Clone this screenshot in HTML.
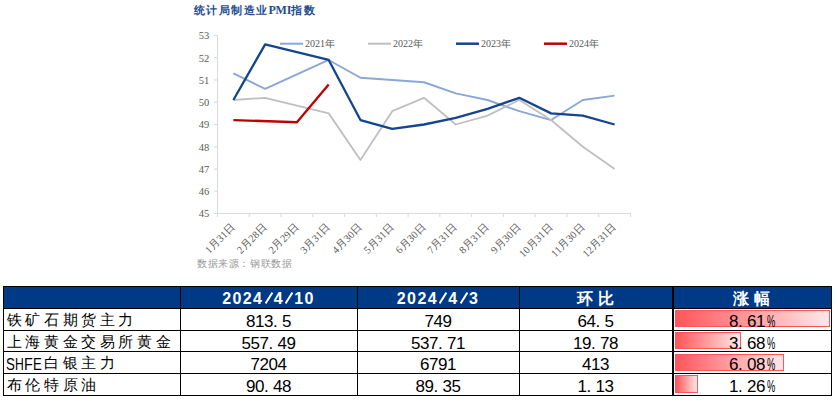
<!DOCTYPE html>
<html><head><meta charset="utf-8"><style>
html,body{margin:0;padding:0;background:#fff;}
body{width:839px;height:406px;position:relative;overflow:hidden;font-family:"Liberation Sans",sans-serif;}
.title{position:absolute;left:194px;top:3px;font-size:11px;font-weight:bold;color:#1F4E8F;letter-spacing:1.4px;white-space:nowrap}
.pmi{font-family:'Liberation Serif',serif;font-size:12px;letter-spacing:-0.2px}
.src{position:absolute;left:197px;top:257px;font-size:10px;color:#999;letter-spacing:0.6px;white-space:nowrap}
div,span{white-space:nowrap}
</style></head><body>
<div class="title">统计局制造业<span class="pmi">PMI</span>指数</div>
<svg width="839" height="280" viewBox="0 0 839 280" style="position:absolute;left:0;top:0">
<path d="M217.5,35.5 L217.5,213.5 L630.5,213.5" stroke="#D9D9D9" stroke-width="1" fill="none"/>
<path d="M214.0,35.5 L217.5,35.5 M214.0,57.75 L217.5,57.75 M214.0,80.0 L217.5,80.0 M214.0,102.25 L217.5,102.25 M214.0,124.5 L217.5,124.5 M214.0,146.75 L217.5,146.75 M214.0,169.0 L217.5,169.0 M214.0,191.25 L217.5,191.25 M214.0,213.5 L217.5,213.5 M217.50,213.5 L217.50,217.0 M249.27,213.5 L249.27,217.0 M281.04,213.5 L281.04,217.0 M312.81,213.5 L312.81,217.0 M344.58,213.5 L344.58,217.0 M376.35,213.5 L376.35,217.0 M408.12,213.5 L408.12,217.0 M439.88,213.5 L439.88,217.0 M471.65,213.5 L471.65,217.0 M503.42,213.5 L503.42,217.0 M535.19,213.5 L535.19,217.0 M566.96,213.5 L566.96,217.0 M598.73,213.5 L598.73,217.0 M630.50,213.5 L630.50,217.0" stroke="#D9D9D9" stroke-width="1" fill="none"/>
<text x="209.3" y="39.40" text-anchor="end" font-family="Liberation Serif" font-size="10.5" fill="#595959">53</text>
<text x="209.3" y="61.65" text-anchor="end" font-family="Liberation Serif" font-size="10.5" fill="#595959">52</text>
<text x="209.3" y="83.90" text-anchor="end" font-family="Liberation Serif" font-size="10.5" fill="#595959">51</text>
<text x="209.3" y="106.15" text-anchor="end" font-family="Liberation Serif" font-size="10.5" fill="#595959">50</text>
<text x="209.3" y="128.40" text-anchor="end" font-family="Liberation Serif" font-size="10.5" fill="#595959">49</text>
<text x="209.3" y="150.65" text-anchor="end" font-family="Liberation Serif" font-size="10.5" fill="#595959">48</text>
<text x="209.3" y="172.90" text-anchor="end" font-family="Liberation Serif" font-size="10.5" fill="#595959">47</text>
<text x="209.3" y="195.15" text-anchor="end" font-family="Liberation Serif" font-size="10.5" fill="#595959">46</text>
<text x="209.3" y="217.40" text-anchor="end" font-family="Liberation Serif" font-size="10.5" fill="#595959">45</text>
<text x="235.88" y="227.50" text-anchor="end" transform="rotate(-45 235.88 227.50)" font-family="Liberation Serif" font-size="10.5" fill="#595959">1月31日</text>
<text x="267.65" y="227.50" text-anchor="end" transform="rotate(-45 267.65 227.50)" font-family="Liberation Serif" font-size="10.5" fill="#595959">2月28日</text>
<text x="299.42" y="227.50" text-anchor="end" transform="rotate(-45 299.42 227.50)" font-family="Liberation Serif" font-size="10.5" fill="#595959">2月29日</text>
<text x="331.19" y="227.50" text-anchor="end" transform="rotate(-45 331.19 227.50)" font-family="Liberation Serif" font-size="10.5" fill="#595959">3月31日</text>
<text x="362.96" y="227.50" text-anchor="end" transform="rotate(-45 362.96 227.50)" font-family="Liberation Serif" font-size="10.5" fill="#595959">4月30日</text>
<text x="394.73" y="227.50" text-anchor="end" transform="rotate(-45 394.73 227.50)" font-family="Liberation Serif" font-size="10.5" fill="#595959">5月31日</text>
<text x="426.50" y="227.50" text-anchor="end" transform="rotate(-45 426.50 227.50)" font-family="Liberation Serif" font-size="10.5" fill="#595959">6月30日</text>
<text x="458.27" y="227.50" text-anchor="end" transform="rotate(-45 458.27 227.50)" font-family="Liberation Serif" font-size="10.5" fill="#595959">7月31日</text>
<text x="490.04" y="227.50" text-anchor="end" transform="rotate(-45 490.04 227.50)" font-family="Liberation Serif" font-size="10.5" fill="#595959">8月31日</text>
<text x="521.81" y="227.50" text-anchor="end" transform="rotate(-45 521.81 227.50)" font-family="Liberation Serif" font-size="10.5" fill="#595959">9月30日</text>
<text x="553.58" y="227.50" text-anchor="end" transform="rotate(-45 553.58 227.50)" font-family="Liberation Serif" font-size="10.5" fill="#595959">10月31日</text>
<text x="585.35" y="227.50" text-anchor="end" transform="rotate(-45 585.35 227.50)" font-family="Liberation Serif" font-size="10.5" fill="#595959">11月30日</text>
<text x="617.12" y="227.50" text-anchor="end" transform="rotate(-45 617.12 227.50)" font-family="Liberation Serif" font-size="10.5" fill="#595959">12月31日</text>
<polyline points="233.38,73.33 265.15,88.90 328.69,59.98 360.46,77.77 392.23,80.00 424.00,82.23 455.77,93.35 487.54,100.02 519.31,111.15 551.08,120.05 582.85,100.02 614.62,95.58" stroke="#8AA7D8" stroke-width="1.9" fill="none" stroke-linejoin="round"/>
<polyline points="233.38,100.02 265.15,97.80 328.69,113.38 360.46,160.10 392.23,111.15 424.00,97.80 455.77,124.50 487.54,115.60 519.31,100.02 551.08,120.05 582.85,146.75 614.62,169.00" stroke="#BFBFBF" stroke-width="1.8" fill="none" stroke-linejoin="round"/>
<polyline points="233.38,100.02 265.15,44.40 328.69,59.98 360.46,120.05 392.23,128.95 424.00,124.50 455.77,117.83 487.54,108.92 519.31,97.80 551.08,113.38 582.85,115.60 614.62,124.50" stroke="#14458F" stroke-width="2.3" fill="none" stroke-linejoin="round"/>
<polyline points="233.38,120.05 296.92,122.27 328.69,84.45" stroke="#C00000" stroke-width="2.3" fill="none" stroke-linejoin="round"/>
<line x1="280" y1="43.7" x2="303" y2="43.7" stroke="#8AA7D8" stroke-width="2"/>
<text x="305" y="47.2" font-family="Liberation Serif" font-size="10" fill="#595959">2021年</text>
<line x1="368" y1="43.7" x2="391" y2="43.7" stroke="#BFBFBF" stroke-width="2"/>
<text x="393" y="47.2" font-family="Liberation Serif" font-size="10" fill="#595959">2022年</text>
<line x1="456" y1="43.7" x2="479" y2="43.7" stroke="#14458F" stroke-width="2.5"/>
<text x="481" y="47.2" font-family="Liberation Serif" font-size="10" fill="#595959">2023年</text>
<line x1="544" y1="43.7" x2="567" y2="43.7" stroke="#C00000" stroke-width="2.5"/>
<text x="569" y="47.2" font-family="Liberation Serif" font-size="10" fill="#595959">2024年</text>
</svg>
<div class="src">数据来源：钢联数据</div>
<div style="position:absolute;left:3px;top:286px;width:829px;height:22px;background:#003A87"></div>
<div style="position:absolute;left:675px;top:310px;width:153px;height:15px;border:1px solid #FF555A;background:linear-gradient(to right,#FF555A,#FFE8E8)"></div>
<div style="position:absolute;left:675px;top:332px;width:64px;height:15px;border:1px solid #FF555A;background:linear-gradient(to right,#FF555A,#FFE8E8)"></div>
<div style="position:absolute;left:675px;top:354px;width:107px;height:15px;border:1px solid #FF555A;background:linear-gradient(to right,#FF555A,#FFE8E8)"></div>
<div style="position:absolute;left:675px;top:375px;width:21px;height:16px;border:1px solid #FF555A;background:linear-gradient(to right,#FF555A,#FFE8E8)"></div>
<div style="position:absolute;left:3px;top:286px;width:829px;height:1px;background:#000"></div>
<div style="position:absolute;left:3px;top:308px;width:829px;height:1px;background:#000"></div>
<div style="position:absolute;left:3px;top:330px;width:829px;height:1px;background:#000"></div>
<div style="position:absolute;left:3px;top:351px;width:829px;height:1px;background:#000"></div>
<div style="position:absolute;left:3px;top:373px;width:829px;height:1px;background:#000"></div>
<div style="position:absolute;left:3px;top:395px;width:829px;height:1px;background:#000"></div>
<div style="position:absolute;left:3px;top:286px;width:1px;height:110px;background:#000"></div>
<div style="position:absolute;left:180px;top:286px;width:1px;height:110px;background:#000"></div>
<div style="position:absolute;left:357px;top:286px;width:1px;height:110px;background:#000"></div>
<div style="position:absolute;left:519px;top:286px;width:1px;height:110px;background:#000"></div>
<div style="position:absolute;left:672px;top:286px;width:2px;height:110px;background:#000"></div>
<div style="position:absolute;left:831px;top:286px;width:1px;height:110px;background:#000"></div>
<span style="position:absolute;left:222.15px;top:291.00px;font-size:16px;line-height:1;font-weight:bold;color:#fff;">2</span>
<span style="position:absolute;left:232.45px;top:291.00px;font-size:16px;line-height:1;font-weight:bold;color:#fff;">0</span>
<span style="position:absolute;left:242.75px;top:291.00px;font-size:16px;line-height:1;font-weight:bold;color:#fff;">2</span>
<span style="position:absolute;left:253.05px;top:291.00px;font-size:16px;line-height:1;font-weight:bold;color:#fff;">4</span>
<svg style="position:absolute;left:264.50px;top:291.50px" width="8" height="12"><line x1="0.6" y1="11.4" x2="7.4" y2="0.6" stroke="#fff" stroke-width="1.9"/></svg>
<span style="position:absolute;left:273.65px;top:291.00px;font-size:16px;line-height:1;font-weight:bold;color:#fff;">4</span>
<svg style="position:absolute;left:285.10px;top:291.50px" width="8" height="12"><line x1="0.6" y1="11.4" x2="7.4" y2="0.6" stroke="#fff" stroke-width="1.9"/></svg>
<span style="position:absolute;left:294.25px;top:291.00px;font-size:16px;line-height:1;font-weight:bold;color:#fff;">1</span>
<span style="position:absolute;left:304.55px;top:291.00px;font-size:16px;line-height:1;font-weight:bold;color:#fff;">0</span>
<span style="position:absolute;left:396.80px;top:291.00px;font-size:16px;line-height:1;font-weight:bold;color:#fff;">2</span>
<span style="position:absolute;left:407.10px;top:291.00px;font-size:16px;line-height:1;font-weight:bold;color:#fff;">0</span>
<span style="position:absolute;left:417.40px;top:291.00px;font-size:16px;line-height:1;font-weight:bold;color:#fff;">2</span>
<span style="position:absolute;left:427.70px;top:291.00px;font-size:16px;line-height:1;font-weight:bold;color:#fff;">4</span>
<svg style="position:absolute;left:439.15px;top:291.50px" width="8" height="12"><line x1="0.6" y1="11.4" x2="7.4" y2="0.6" stroke="#fff" stroke-width="1.9"/></svg>
<span style="position:absolute;left:448.30px;top:291.00px;font-size:16px;line-height:1;font-weight:bold;color:#fff;">4</span>
<svg style="position:absolute;left:459.75px;top:291.50px" width="8" height="12"><line x1="0.6" y1="11.4" x2="7.4" y2="0.6" stroke="#fff" stroke-width="1.9"/></svg>
<span style="position:absolute;left:468.90px;top:291.00px;font-size:16px;line-height:1;font-weight:bold;color:#fff;">3</span>
<span style="position:absolute;left:574.70px;top:290.50px;width:20.8px;text-align:center;font-size:15.5px;line-height:1;font-weight:bold;color:#fff">环</span>
<span style="position:absolute;left:595.50px;top:290.50px;width:20.8px;text-align:center;font-size:15.5px;line-height:1;font-weight:bold;color:#fff">比</span>
<span style="position:absolute;left:730.70px;top:290.50px;width:20.8px;text-align:center;font-size:15.5px;line-height:1;font-weight:bold;color:#fff">涨</span>
<span style="position:absolute;left:751.50px;top:290.50px;width:20.8px;text-align:center;font-size:15.5px;line-height:1;font-weight:bold;color:#fff">幅</span>
<span style="position:absolute;left:5.00px;top:312.50px;width:18.6px;text-align:center;font-size:14.5px;line-height:1;font-weight:normal;color:#000">铁</span>
<span style="position:absolute;left:23.60px;top:312.50px;width:18.6px;text-align:center;font-size:14.5px;line-height:1;font-weight:normal;color:#000">矿</span>
<span style="position:absolute;left:42.20px;top:312.50px;width:18.6px;text-align:center;font-size:14.5px;line-height:1;font-weight:normal;color:#000">石</span>
<span style="position:absolute;left:60.80px;top:312.50px;width:18.6px;text-align:center;font-size:14.5px;line-height:1;font-weight:normal;color:#000">期</span>
<span style="position:absolute;left:79.40px;top:312.50px;width:18.6px;text-align:center;font-size:14.5px;line-height:1;font-weight:normal;color:#000">货</span>
<span style="position:absolute;left:98.00px;top:312.50px;width:18.6px;text-align:center;font-size:14.5px;line-height:1;font-weight:normal;color:#000">主</span>
<span style="position:absolute;left:116.60px;top:312.50px;width:18.6px;text-align:center;font-size:14.5px;line-height:1;font-weight:normal;color:#000">力</span>
<span style="position:absolute;left:246.00px;top:313.00px;font-size:17px;line-height:1;font-weight:normal;color:#000;">8</span>
<span style="position:absolute;left:255.00px;top:313.00px;font-size:17px;line-height:1;font-weight:normal;color:#000;">1</span>
<span style="position:absolute;left:264.00px;top:313.00px;font-size:17px;line-height:1;font-weight:normal;color:#000;">3</span>
<span style="position:absolute;left:273.00px;top:313.00px;font-size:17px;line-height:1;font-weight:normal;color:#000;">.</span>
<span style="position:absolute;left:282.00px;top:313.00px;font-size:17px;line-height:1;font-weight:normal;color:#000;">5</span>
<span style="position:absolute;left:424.50px;top:313.00px;font-size:17px;line-height:1;font-weight:normal;color:#000;">7</span>
<span style="position:absolute;left:433.50px;top:313.00px;font-size:17px;line-height:1;font-weight:normal;color:#000;">4</span>
<span style="position:absolute;left:442.50px;top:313.00px;font-size:17px;line-height:1;font-weight:normal;color:#000;">9</span>
<span style="position:absolute;left:577.50px;top:313.00px;font-size:17px;line-height:1;font-weight:normal;color:#000;">6</span>
<span style="position:absolute;left:586.50px;top:313.00px;font-size:17px;line-height:1;font-weight:normal;color:#000;">4</span>
<span style="position:absolute;left:595.50px;top:313.00px;font-size:17px;line-height:1;font-weight:normal;color:#000;">.</span>
<span style="position:absolute;left:604.50px;top:313.00px;font-size:17px;line-height:1;font-weight:normal;color:#000;">5</span>
<span style="position:absolute;left:729.00px;top:313.00px;font-size:17px;line-height:1;font-weight:normal;color:#000;">8</span>
<span style="position:absolute;left:738.00px;top:313.00px;font-size:17px;line-height:1;font-weight:normal;color:#000;">.</span>
<span style="position:absolute;left:747.00px;top:313.00px;font-size:17px;line-height:1;font-weight:normal;color:#000;">6</span>
<span style="position:absolute;left:756.00px;top:313.00px;font-size:17px;line-height:1;font-weight:normal;color:#000;">1</span>
<span style="position:absolute;left:766.50px;top:313.00px;font-size:17px;line-height:1;font-weight:normal;color:#000;transform:scaleX(0.548);transform-origin:0 0;">%</span>
<span style="position:absolute;left:5.00px;top:334.50px;width:18.6px;text-align:center;font-size:14.5px;line-height:1;font-weight:normal;color:#000">上</span>
<span style="position:absolute;left:23.60px;top:334.50px;width:18.6px;text-align:center;font-size:14.5px;line-height:1;font-weight:normal;color:#000">海</span>
<span style="position:absolute;left:42.20px;top:334.50px;width:18.6px;text-align:center;font-size:14.5px;line-height:1;font-weight:normal;color:#000">黄</span>
<span style="position:absolute;left:60.80px;top:334.50px;width:18.6px;text-align:center;font-size:14.5px;line-height:1;font-weight:normal;color:#000">金</span>
<span style="position:absolute;left:79.40px;top:334.50px;width:18.6px;text-align:center;font-size:14.5px;line-height:1;font-weight:normal;color:#000">交</span>
<span style="position:absolute;left:98.00px;top:334.50px;width:18.6px;text-align:center;font-size:14.5px;line-height:1;font-weight:normal;color:#000">易</span>
<span style="position:absolute;left:116.60px;top:334.50px;width:18.6px;text-align:center;font-size:14.5px;line-height:1;font-weight:normal;color:#000">所</span>
<span style="position:absolute;left:135.20px;top:334.50px;width:18.6px;text-align:center;font-size:14.5px;line-height:1;font-weight:normal;color:#000">黄</span>
<span style="position:absolute;left:153.80px;top:334.50px;width:18.6px;text-align:center;font-size:14.5px;line-height:1;font-weight:normal;color:#000">金</span>
<span style="position:absolute;left:241.50px;top:335.00px;font-size:17px;line-height:1;font-weight:normal;color:#000;">5</span>
<span style="position:absolute;left:250.50px;top:335.00px;font-size:17px;line-height:1;font-weight:normal;color:#000;">5</span>
<span style="position:absolute;left:259.50px;top:335.00px;font-size:17px;line-height:1;font-weight:normal;color:#000;">7</span>
<span style="position:absolute;left:268.50px;top:335.00px;font-size:17px;line-height:1;font-weight:normal;color:#000;">.</span>
<span style="position:absolute;left:277.50px;top:335.00px;font-size:17px;line-height:1;font-weight:normal;color:#000;">4</span>
<span style="position:absolute;left:286.50px;top:335.00px;font-size:17px;line-height:1;font-weight:normal;color:#000;">9</span>
<span style="position:absolute;left:411.00px;top:335.00px;font-size:17px;line-height:1;font-weight:normal;color:#000;">5</span>
<span style="position:absolute;left:420.00px;top:335.00px;font-size:17px;line-height:1;font-weight:normal;color:#000;">3</span>
<span style="position:absolute;left:429.00px;top:335.00px;font-size:17px;line-height:1;font-weight:normal;color:#000;">7</span>
<span style="position:absolute;left:438.00px;top:335.00px;font-size:17px;line-height:1;font-weight:normal;color:#000;">.</span>
<span style="position:absolute;left:447.00px;top:335.00px;font-size:17px;line-height:1;font-weight:normal;color:#000;">7</span>
<span style="position:absolute;left:456.00px;top:335.00px;font-size:17px;line-height:1;font-weight:normal;color:#000;">1</span>
<span style="position:absolute;left:573.00px;top:335.00px;font-size:17px;line-height:1;font-weight:normal;color:#000;">1</span>
<span style="position:absolute;left:582.00px;top:335.00px;font-size:17px;line-height:1;font-weight:normal;color:#000;">9</span>
<span style="position:absolute;left:591.00px;top:335.00px;font-size:17px;line-height:1;font-weight:normal;color:#000;">.</span>
<span style="position:absolute;left:600.00px;top:335.00px;font-size:17px;line-height:1;font-weight:normal;color:#000;">7</span>
<span style="position:absolute;left:609.00px;top:335.00px;font-size:17px;line-height:1;font-weight:normal;color:#000;">8</span>
<span style="position:absolute;left:729.00px;top:335.00px;font-size:17px;line-height:1;font-weight:normal;color:#000;">3</span>
<span style="position:absolute;left:738.00px;top:335.00px;font-size:17px;line-height:1;font-weight:normal;color:#000;">.</span>
<span style="position:absolute;left:747.00px;top:335.00px;font-size:17px;line-height:1;font-weight:normal;color:#000;">6</span>
<span style="position:absolute;left:756.00px;top:335.00px;font-size:17px;line-height:1;font-weight:normal;color:#000;">8</span>
<span style="position:absolute;left:766.50px;top:335.00px;font-size:17px;line-height:1;font-weight:normal;color:#000;transform:scaleX(0.548);transform-origin:0 0;">%</span>
<span style="position:absolute;left:6.20px;top:356.00px;font-size:17px;line-height:1;font-weight:normal;color:#000;transform:scaleX(0.778);transform-origin:0 0;">S</span>
<span style="position:absolute;left:15.20px;top:356.00px;font-size:17px;line-height:1;font-weight:normal;color:#000;transform:scaleX(0.718);transform-origin:0 0;">H</span>
<span style="position:absolute;left:24.20px;top:356.00px;font-size:17px;line-height:1;font-weight:normal;color:#000;transform:scaleX(0.849);transform-origin:0 0;">F</span>
<span style="position:absolute;left:33.20px;top:356.00px;font-size:17px;line-height:1;font-weight:normal;color:#000;transform:scaleX(0.778);transform-origin:0 0;">E</span>
<span style="position:absolute;left:42.20px;top:355.50px;width:18.6px;text-align:center;font-size:14.5px;line-height:1;font-weight:normal;color:#000">白</span>
<span style="position:absolute;left:60.80px;top:355.50px;width:18.6px;text-align:center;font-size:14.5px;line-height:1;font-weight:normal;color:#000">银</span>
<span style="position:absolute;left:79.40px;top:355.50px;width:18.6px;text-align:center;font-size:14.5px;line-height:1;font-weight:normal;color:#000">主</span>
<span style="position:absolute;left:98.00px;top:355.50px;width:18.6px;text-align:center;font-size:14.5px;line-height:1;font-weight:normal;color:#000">力</span>
<span style="position:absolute;left:250.50px;top:356.00px;font-size:17px;line-height:1;font-weight:normal;color:#000;">7</span>
<span style="position:absolute;left:259.50px;top:356.00px;font-size:17px;line-height:1;font-weight:normal;color:#000;">2</span>
<span style="position:absolute;left:268.50px;top:356.00px;font-size:17px;line-height:1;font-weight:normal;color:#000;">0</span>
<span style="position:absolute;left:277.50px;top:356.00px;font-size:17px;line-height:1;font-weight:normal;color:#000;">4</span>
<span style="position:absolute;left:420.00px;top:356.00px;font-size:17px;line-height:1;font-weight:normal;color:#000;">6</span>
<span style="position:absolute;left:429.00px;top:356.00px;font-size:17px;line-height:1;font-weight:normal;color:#000;">7</span>
<span style="position:absolute;left:438.00px;top:356.00px;font-size:17px;line-height:1;font-weight:normal;color:#000;">9</span>
<span style="position:absolute;left:447.00px;top:356.00px;font-size:17px;line-height:1;font-weight:normal;color:#000;">1</span>
<span style="position:absolute;left:582.00px;top:356.00px;font-size:17px;line-height:1;font-weight:normal;color:#000;">4</span>
<span style="position:absolute;left:591.00px;top:356.00px;font-size:17px;line-height:1;font-weight:normal;color:#000;">1</span>
<span style="position:absolute;left:600.00px;top:356.00px;font-size:17px;line-height:1;font-weight:normal;color:#000;">3</span>
<span style="position:absolute;left:729.00px;top:356.00px;font-size:17px;line-height:1;font-weight:normal;color:#000;">6</span>
<span style="position:absolute;left:738.00px;top:356.00px;font-size:17px;line-height:1;font-weight:normal;color:#000;">.</span>
<span style="position:absolute;left:747.00px;top:356.00px;font-size:17px;line-height:1;font-weight:normal;color:#000;">0</span>
<span style="position:absolute;left:756.00px;top:356.00px;font-size:17px;line-height:1;font-weight:normal;color:#000;">8</span>
<span style="position:absolute;left:766.50px;top:356.00px;font-size:17px;line-height:1;font-weight:normal;color:#000;transform:scaleX(0.548);transform-origin:0 0;">%</span>
<span style="position:absolute;left:5.00px;top:377.50px;width:18.6px;text-align:center;font-size:14.5px;line-height:1;font-weight:normal;color:#000">布</span>
<span style="position:absolute;left:23.60px;top:377.50px;width:18.6px;text-align:center;font-size:14.5px;line-height:1;font-weight:normal;color:#000">伦</span>
<span style="position:absolute;left:42.20px;top:377.50px;width:18.6px;text-align:center;font-size:14.5px;line-height:1;font-weight:normal;color:#000">特</span>
<span style="position:absolute;left:60.80px;top:377.50px;width:18.6px;text-align:center;font-size:14.5px;line-height:1;font-weight:normal;color:#000">原</span>
<span style="position:absolute;left:79.40px;top:377.50px;width:18.6px;text-align:center;font-size:14.5px;line-height:1;font-weight:normal;color:#000">油</span>
<span style="position:absolute;left:246.00px;top:378.00px;font-size:17px;line-height:1;font-weight:normal;color:#000;">9</span>
<span style="position:absolute;left:255.00px;top:378.00px;font-size:17px;line-height:1;font-weight:normal;color:#000;">0</span>
<span style="position:absolute;left:264.00px;top:378.00px;font-size:17px;line-height:1;font-weight:normal;color:#000;">.</span>
<span style="position:absolute;left:273.00px;top:378.00px;font-size:17px;line-height:1;font-weight:normal;color:#000;">4</span>
<span style="position:absolute;left:282.00px;top:378.00px;font-size:17px;line-height:1;font-weight:normal;color:#000;">8</span>
<span style="position:absolute;left:415.50px;top:378.00px;font-size:17px;line-height:1;font-weight:normal;color:#000;">8</span>
<span style="position:absolute;left:424.50px;top:378.00px;font-size:17px;line-height:1;font-weight:normal;color:#000;">9</span>
<span style="position:absolute;left:433.50px;top:378.00px;font-size:17px;line-height:1;font-weight:normal;color:#000;">.</span>
<span style="position:absolute;left:442.50px;top:378.00px;font-size:17px;line-height:1;font-weight:normal;color:#000;">3</span>
<span style="position:absolute;left:451.50px;top:378.00px;font-size:17px;line-height:1;font-weight:normal;color:#000;">5</span>
<span style="position:absolute;left:577.50px;top:378.00px;font-size:17px;line-height:1;font-weight:normal;color:#000;">1</span>
<span style="position:absolute;left:586.50px;top:378.00px;font-size:17px;line-height:1;font-weight:normal;color:#000;">.</span>
<span style="position:absolute;left:595.50px;top:378.00px;font-size:17px;line-height:1;font-weight:normal;color:#000;">1</span>
<span style="position:absolute;left:604.50px;top:378.00px;font-size:17px;line-height:1;font-weight:normal;color:#000;">3</span>
<span style="position:absolute;left:729.00px;top:378.00px;font-size:17px;line-height:1;font-weight:normal;color:#000;">1</span>
<span style="position:absolute;left:738.00px;top:378.00px;font-size:17px;line-height:1;font-weight:normal;color:#000;">.</span>
<span style="position:absolute;left:747.00px;top:378.00px;font-size:17px;line-height:1;font-weight:normal;color:#000;">2</span>
<span style="position:absolute;left:756.00px;top:378.00px;font-size:17px;line-height:1;font-weight:normal;color:#000;">6</span>
<span style="position:absolute;left:766.50px;top:378.00px;font-size:17px;line-height:1;font-weight:normal;color:#000;transform:scaleX(0.548);transform-origin:0 0;">%</span>
</body></html>
